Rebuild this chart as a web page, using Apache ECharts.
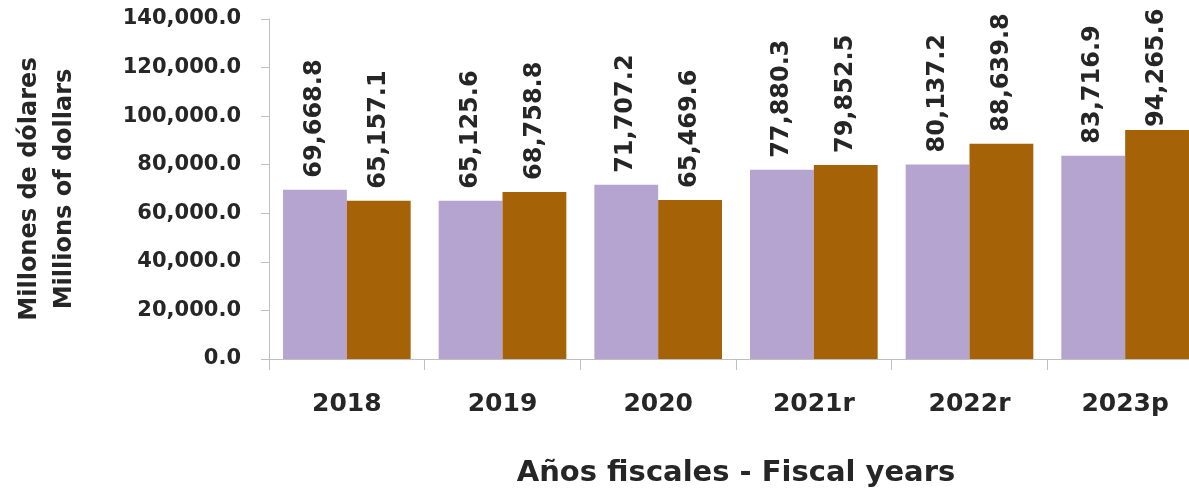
<!DOCTYPE html>
<html>
<head>
<meta charset="utf-8">
<script src="https://cdn.jsdelivr.net/npm/echarts@6/dist/echarts.min.js"></script>
<style>
html,body{margin:0;padding:0;background:#fff;}
#chart{width:1189px;height:492px;}
</style>
</head>
<body>
<div id="chart"></div>
<script>
const categories = ['2018', '2019', '2020', '2021r', '2022r', '2023p'];
const seriesA = [69668.8, 65125.6, 71707.2, 77880.3, 80137.2, 83716.9];
const seriesB = [65157.1, 68758.8, 65469.6, 79852.5, 88639.8, 94265.6];
const yTicks = { min: 0, max: 140000, interval: 20000 };
const xTitle = 'Años fiscales - Fiscal years';
const yTitle = 'Millones de dólares\nMillions of dollars';

const FONT = 'DejaVu Sans';
const TXT = '#262626';
const fmt = v => Number(v).toLocaleString('en-US', {minimumFractionDigits: 1, maximumFractionDigits: 1});

const labelCfg = {
  show: true, position: 'top', rotate: 90, align: 'left', verticalAlign: 'middle',
  distance: 12, color: TXT, fontFamily: FONT, fontWeight: 'bold', fontSize: 24,
  formatter: p => fmt(p.value)
};

// the tallest label is nudged down towards its bar so it stays inside the picture
const seriesBData = seriesB.map((v, i) => i === seriesB.length - 1 ? { value: v, label: { distance: 3 } } : v);

const chart = echarts.init(document.getElementById('chart'), null, {renderer: 'canvas'});
chart.setOption({
  animation: false,
  backgroundColor: '#ffffff',
  grid: { left: 269, top: 19, height: 340, width: 934, containLabel: false, outerBoundsMode: 'none' },
  xAxis: {
    type: 'category', data: categories,
    axisLine: { lineStyle: { color: '#bfbfbf', width: 1 } },
    axisTick: { show: true, length: 11, alignWithLabel: false, lineStyle: { color: '#bfbfbf' } },
    axisLabel: { color: TXT, fontFamily: FONT, fontWeight: 'bold', fontSize: 25, margin: 33 },
    name: xTitle, nameLocation: 'middle', nameGap: 100,
    nameTextStyle: { color: TXT, fontFamily: FONT, fontWeight: 'bold', fontSize: 29 }
  },
  yAxis: {
    type: 'value', min: yTicks.min, max: yTicks.max, interval: yTicks.interval,
    axisLine: { show: true, lineStyle: { color: '#bfbfbf', width: 1 } },
    axisTick: { show: true, length: 8, lineStyle: { color: '#bfbfbf' } },
    splitLine: { show: false },
    axisLabel: { color: TXT, fontFamily: FONT, fontWeight: 'bold', fontSize: 21, margin: 28, formatter: v => fmt(v) },
    name: yTitle, nameLocation: 'middle', nameRotate: 90, nameGap: 187,
    nameMoveOverlap: false,
    nameTextStyle: { color: TXT, fontFamily: FONT, fontWeight: 'bold', fontSize: 24, lineHeight: 35, align: 'center' }
  },
  series: [
    { type: 'bar', data: seriesA, barGap: '0%', barCategoryGap: '18%',
      itemStyle: { color: '#B5A4CF' }, label: labelCfg },
    { type: 'bar', data: seriesBData, barGap: '0%', barCategoryGap: '18%',
      itemStyle: { color: '#A56206' }, label: labelCfg }
  ]
});
</script>
</body>
</html>
